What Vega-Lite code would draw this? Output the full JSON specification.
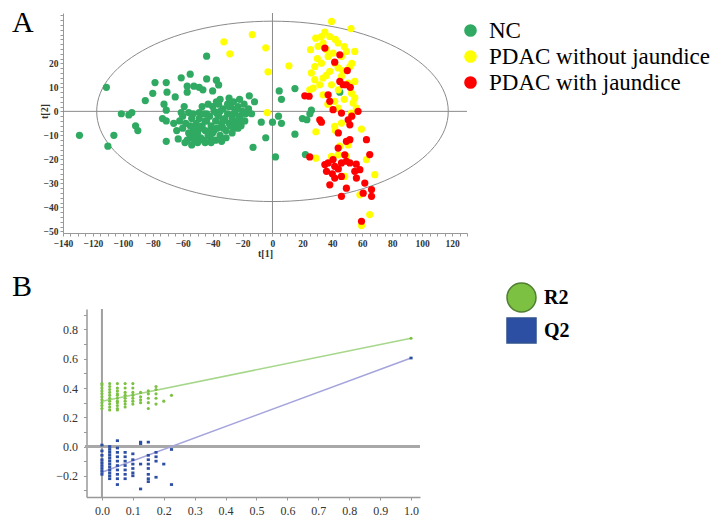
{
"$schema": "https://vega.github.io/schema/vega-lite/v6.json",
"padding": {"left": 12, "top": 8, "right": 2, "bottom": 2},
"background": "white",
"config": {"view": {"stroke": null}, "font": "Liberation Serif", "axis": {"grid": false, "labelFont": "Liberation Serif", "titleFont": "Liberation Serif", "labelOverlap": false, "labelFlush": false}},
"spacing": 13,
"resolve": {"scale": {"color": "independent", "shape": "independent"}, "legend": {"color": "independent", "shape": "independent"}},
"datasets": {
"scores": [
{"x":-129,"y":-10,"g":"NC"},{"x":-111,"y":10,"g":"NC"},{"x":-110,"y":-14.5,"g":"NC"},{"x":-106,"y":-10,"g":"NC"},{"x":-101,"y":-1,"g":"NC"},{"x":-96,"y":-1.5,"g":"NC"},{"x":-94,"y":-0.5,"g":"NC"},{"x":-91.5,"y":-6,"g":"NC"},{"x":-90,"y":-8,"g":"NC"},{"x":-85,"y":4.5,"g":"NC"},{"x":-80,"y":7.5,"g":"NC"},{"x":-78.5,"y":12,"g":"NC"},{"x":-71,"y":12,"g":"NC"},{"x":-70.5,"y":8,"g":"NC"},{"x":-65,"y":6,"g":"NC"},{"x":-72.5,"y":3,"g":"NC"},{"x":-71,"y":0.5,"g":"NC"},{"x":-73.5,"y":-3,"g":"NC"},{"x":-71,"y":-4,"g":"NC"},{"x":-71,"y":-12.5,"g":"NC"},{"x":-66,"y":-5,"g":"NC"},{"x":-63,"y":-11.5,"g":"NC"},{"x":-61,"y":14,"g":"NC"},{"x":-55,"y":15.5,"g":"NC"},{"x":-61,"y":-0.5,"g":"NC"},{"x":-57,"y":10.5,"g":"NC"},{"x":-57,"y":8,"g":"NC"},{"x":-52.5,"y":10.5,"g":"NC"},{"x":-49,"y":10,"g":"NC"},{"x":-46.5,"y":9,"g":"NC"},{"x":-44,"y":13.5,"g":"NC"},{"x":-44,"y":23,"g":"NC"},{"x":-40,"y":8.5,"g":"NC"},{"x":-37.5,"y":13,"g":"NC"},{"x":-36,"y":11,"g":"NC"},
{"x":-56,"y":-0.5,"g":"NC"},{"x":-49,"y":-0.5,"g":"NC"},{"x":-37.5,"y":4,"g":"NC"},{"x":-35,"y":5,"g":"NC"},{"x":-29,"y":5.5,"g":"NC"},{"x":-26,"y":4,"g":"NC"},{"x":-22,"y":5,"g":"NC"},{"x":-15.5,"y":6.5,"g":"NC"},{"x":-12,"y":4,"g":"NC"},{"x":-17,"y":-0.5,"g":"NC"},{"x":-18.5,"y":-4,"g":"NC"},{"x":-7.5,"y":-4.5,"g":"NC"},{"x":-4.5,"y":-11,"g":"NC"},{"x":-13,"y":-15,"g":"NC"},{"x":-34,"y":-12.5,"g":"NC"},{"x":-41.5,"y":-11,"g":"NC"},{"x":-45,"y":-13,"g":"NC"},{"x":-58.5,"y":-13,"g":"NC"},
{"x":-60,"y":-7,"g":"NC"},{"x":-58,"y":-5,"g":"NC"},{"x":-56,"y":-9,"g":"NC"},{"x":-55,"y":-11,"g":"NC"},{"x":-54,"y":-3,"g":"NC"},{"x":-53,"y":-7,"g":"NC"},{"x":-52,"y":-12,"g":"NC"},{"x":-51,"y":-5,"g":"NC"},{"x":-50,"y":-9,"g":"NC"},{"x":-49,"y":-3,"g":"NC"},{"x":-48,"y":-11,"g":"NC"},{"x":-47,"y":-6,"g":"NC"},{"x":-46,"y":-1,"g":"NC"},{"x":-45,"y":-8,"g":"NC"},{"x":-44,"y":-4,"g":"NC"},{"x":-43,"y":-10,"g":"NC"},{"x":-42,"y":-2,"g":"NC"},{"x":-41,"y":-6,"g":"NC"},{"x":-40,"y":-9,"g":"NC"},{"x":-39,"y":0,"g":"NC"},{"x":-38,"y":-4,"g":"NC"},{"x":-37,"y":-7,"g":"NC"},{"x":-36,"y":-2,"g":"NC"},{"x":-35,"y":-10,"g":"NC"},{"x":-34,"y":-5,"g":"NC"},{"x":-33,"y":1,"g":"NC"},{"x":-32,"y":-3,"g":"NC"},{"x":-31,"y":-8,"g":"NC"},{"x":-30,"y":-1,"g":"NC"},{"x":-29,"y":-5,"g":"NC"},{"x":-28,"y":2,"g":"NC"},{"x":-27,"y":-3,"g":"NC"},{"x":-26,"y":-7,"g":"NC"},{"x":-25,"y":0,"g":"NC"},{"x":-24,"y":-4,"g":"NC"},{"x":-23,"y":2,"g":"NC"},{"x":-22,"y":-2,"g":"NC"},{"x":-21,"y":-6,"g":"NC"},{"x":-20,"y":0,"g":"NC"},{"x":-19,"y":3,"g":"NC"},{"x":-18,"y":-1,"g":"NC"},{"x":-16,"y":1,"g":"NC"},{"x":-14,"y":-1,"g":"NC"},{"x":-57,"y":-12,"g":"NC"},{"x":-54,"y":-14,"g":"NC"},{"x":-52,"y":-9,"g":"NC"},{"x":-50,"y":-13,"g":"NC"},{"x":-48,"y":-7,"g":"NC"},{"x":-46,"y":-12,"g":"NC"},{"x":-44,"y":-1,"g":"NC"},{"x":-42,"y":-8,"g":"NC"},{"x":-40,"y":2,"g":"NC"},{"x":-38,"y":-12,"g":"NC"},{"x":-36,"y":3,"g":"NC"},{"x":-33,"y":-7,"g":"NC"},{"x":-31,"y":-11,"g":"NC"},{"x":-29,"y":2,"g":"NC"},{"x":-27,"y":-9,"g":"NC"},{"x":-25,"y":-5,"g":"NC"},{"x":-24,"y":1,"g":"NC"},{"x":-62,"y":-4,"g":"NC"},{"x":-64,"y":-8,"g":"NC"},{"x":-60,"y":-2,"g":"NC"},{"x":-59,"y":2,"g":"NC"},{"x":-47,"y":2,"g":"NC"},{"x":-43,"y":3,"g":"NC"},{"x":-35,"y":0,"g":"NC"},{"x":-30,"y":3,"g":"NC"},{"x":-20,"y":-4,"g":"NC"},{"x":-55,"y":-6,"g":"NC"},{"x":-53,"y":-1,"g":"NC"},{"x":-51,"y":-10,"g":"NC"},{"x":-49,"y":-7,"g":"NC"},{"x":-45,"y":-4,"g":"NC"},{"x":-41,"y":-13,"g":"NC"},{"x":-39,"y":-8,"g":"NC"},{"x":-37,"y":-1,"g":"NC"},{"x":-33,"y":-4,"g":"NC"},{"x":-28,"y":-6,"g":"NC"},{"x":-26,"y":-1,"g":"NC"},{"x":-23,"y":-7,"g":"NC"},
{"x":4.5,"y":8.5,"g":"NC"},{"x":6,"y":5,"g":"NC"},{"x":15,"y":9.5,"g":"NC"},{"x":4,"y":-2,"g":"NC"},{"x":0,"y":-4.5,"g":"NC"},{"x":6,"y":-5,"g":"NC"},{"x":15,"y":-9.5,"g":"NC"},{"x":2,"y":-19,"g":"NC"},{"x":22,"y":-18,"g":"NC"},{"x":20,"y":-3,"g":"NC"},{"x":23,"y":-3.5,"g":"NC"},{"x":26,"y":0.5,"g":"NC"},{"x":25,"y":-1,"g":"NC"},{"x":45,"y":8,"g":"NC"},
{"x":-32.5,"y":29,"g":"PDAC without jaundice"},{"x":-28.5,"y":24,"g":"PDAC without jaundice"},{"x":-13.5,"y":32,"g":"PDAC without jaundice"},{"x":-4.5,"y":26.5,"g":"PDAC without jaundice"},{"x":-3,"y":16.5,"g":"PDAC without jaundice"},{"x":11,"y":19,"g":"PDAC without jaundice"},{"x":-3.5,"y":-0.5,"g":"PDAC without jaundice"},{"x":29,"y":-8.5,"g":"PDAC without jaundice"},{"x":29,"y":-19.5,"g":"PDAC without jaundice"},{"x":39.5,"y":37.5,"g":"PDAC without jaundice"},{"x":52.5,"y":34.5,"g":"PDAC without jaundice"},
{"x":28.9,"y":30.5,"g":"PDAC without jaundice"},{"x":32.7,"y":31.2,"g":"PDAC without jaundice"},{"x":38.3,"y":31.2,"g":"PDAC without jaundice"},{"x":33.8,"y":28.5,"g":"PDAC without jaundice"},{"x":25.4,"y":25.7,"g":"PDAC without jaundice"},{"x":30.5,"y":27.1,"g":"PDAC without jaundice"},{"x":43.9,"y":28.5,"g":"PDAC without jaundice"},{"x":36.1,"y":25.7,"g":"PDAC without jaundice"},{"x":40.5,"y":24.3,"g":"PDAC without jaundice"},{"x":49.4,"y":25,"g":"PDAC without jaundice"},{"x":55,"y":25,"g":"PDAC without jaundice"},{"x":46.1,"y":22.9,"g":"PDAC without jaundice"},{"x":37.2,"y":22.9,"g":"PDAC without jaundice"},{"x":41.6,"y":20.1,"g":"PDAC without jaundice"},{"x":28.3,"y":18.7,"g":"PDAC without jaundice"},{"x":32.7,"y":20.1,"g":"PDAC without jaundice"},{"x":51.7,"y":18.7,"g":"PDAC without jaundice"},{"x":43.9,"y":18.1,"g":"PDAC without jaundice"},{"x":26,"y":16,"g":"PDAC without jaundice"},{"x":38.3,"y":16.7,"g":"PDAC without jaundice"},{"x":28.3,"y":13.2,"g":"PDAC without jaundice"},{"x":33.8,"y":13.9,"g":"PDAC without jaundice"},{"x":46.1,"y":14.6,"g":"PDAC without jaundice"},{"x":55,"y":12.5,"g":"PDAC without jaundice"},{"x":50.6,"y":11.8,"g":"PDAC without jaundice"},{"x":31.6,"y":11.1,"g":"PDAC without jaundice"},{"x":39.4,"y":11.1,"g":"PDAC without jaundice"},{"x":52.8,"y":7.6,"g":"PDAC without jaundice"},{"x":27.2,"y":9.7,"g":"PDAC without jaundice"},{"x":24.9,"y":9,"g":"PDAC without jaundice"},{"x":33.8,"y":6.9,"g":"PDAC without jaundice"},{"x":55,"y":5.6,"g":"PDAC without jaundice"},{"x":41.6,"y":4.2,"g":"PDAC without jaundice"},{"x":53.9,"y":3.5,"g":"PDAC without jaundice"},{"x":56.1,"y":1.4,"g":"PDAC without jaundice"},{"x":43.9,"y":1.4,"g":"PDAC without jaundice"},{"x":52.8,"y":-0.7,"g":"PDAC without jaundice"},
{"x":35,"y":33,"g":"PDAC without jaundice"},{"x":42,"y":30,"g":"PDAC without jaundice"},{"x":48,"y":27,"g":"PDAC without jaundice"},{"x":30,"y":22,"g":"PDAC without jaundice"},{"x":53,"y":20,"g":"PDAC without jaundice"},{"x":47,"y":17,"g":"PDAC without jaundice"},{"x":36,"y":15,"g":"PDAC without jaundice"},{"x":44,"y":9,"g":"PDAC without jaundice"},{"x":48,"y":5,"g":"PDAC without jaundice"},{"x":37,"y":3,"g":"PDAC without jaundice"},
{"x":59.5,"y":-7.4,"g":"PDAC without jaundice"},{"x":50.6,"y":-14,"g":"PDAC without jaundice"},{"x":68.4,"y":-26.4,"g":"PDAC without jaundice"},{"x":58.4,"y":-34.8,"g":"PDAC without jaundice"},{"x":65,"y":-43,"g":"PDAC without jaundice"},{"x":59.5,"y":-47.6,"g":"PDAC without jaundice"},{"x":41.6,"y":-6.3,"g":"PDAC without jaundice"},{"x":46.1,"y":-4.9,"g":"PDAC without jaundice"},{"x":43.9,"y":-18.1,"g":"PDAC without jaundice"},{"x":48.3,"y":-27.1,"g":"PDAC without jaundice"},{"x":49.4,"y":-18.8,"g":"PDAC without jaundice"},{"x":62.8,"y":-20.1,"g":"PDAC without jaundice"},{"x":39.4,"y":-18.8,"g":"PDAC without jaundice"},{"x":42,"y":-8,"g":"PDAC without jaundice"},{"x":45,"y":-14.5,"g":"PDAC without jaundice"},
{"x":35,"y":26.4,"g":"PDAC with jaundice"},{"x":45,"y":23.6,"g":"PDAC with jaundice"},{"x":41.6,"y":20.5,"g":"PDAC with jaundice"},{"x":45,"y":12.5,"g":"PDAC with jaundice"},{"x":49.4,"y":11.1,"g":"PDAC with jaundice"},{"x":47.2,"y":11.1,"g":"PDAC with jaundice"},{"x":21.6,"y":6.5,"g":"PDAC with jaundice"},{"x":24.5,"y":6.3,"g":"PDAC with jaundice"},{"x":37.2,"y":6.9,"g":"PDAC with jaundice"},{"x":38.3,"y":4.2,"g":"PDAC with jaundice"},{"x":40.5,"y":0.7,"g":"PDAC with jaundice"},{"x":31.6,"y":-3.5,"g":"PDAC with jaundice"},{"x":32.7,"y":-4.5,"g":"PDAC with jaundice"},{"x":50.6,"y":-3.5,"g":"PDAC with jaundice"},{"x":57.2,"y":0,"g":"PDAC with jaundice"},{"x":46.1,"y":-0.7,"g":"PDAC with jaundice"},{"x":51.7,"y":-5.6,"g":"PDAC with jaundice"},{"x":62.8,"y":-11.8,"g":"PDAC with jaundice"},{"x":49.4,"y":-12.5,"g":"PDAC with jaundice"},{"x":51.7,"y":-11.8,"g":"PDAC with jaundice"},{"x":43.9,"y":-15.3,"g":"PDAC with jaundice"},{"x":37.2,"y":-21.5,"g":"PDAC with jaundice"},{"x":46.1,"y":-21.5,"g":"PDAC with jaundice"},{"x":49.4,"y":-20.8,"g":"PDAC with jaundice"},{"x":41.6,"y":-22.9,"g":"PDAC with jaundice"},{"x":51.7,"y":-21.5,"g":"PDAC with jaundice"},{"x":65,"y":-18,"g":"PDAC with jaundice"},{"x":58.4,"y":-24.3,"g":"PDAC with jaundice"},{"x":56.1,"y":-27.8,"g":"PDAC with jaundice"},{"x":61.7,"y":-29.9,"g":"PDAC with jaundice"},{"x":66.2,"y":-32.6,"g":"PDAC with jaundice"},{"x":66.2,"y":-35.4,"g":"PDAC with jaundice"},{"x":46.1,"y":-35.4,"g":"PDAC with jaundice"},{"x":49.4,"y":-32,"g":"PDAC with jaundice"},{"x":38.3,"y":-30.6,"g":"PDAC with jaundice"},{"x":41.6,"y":-27.8,"g":"PDAC with jaundice"},{"x":46.1,"y":-27.1,"g":"PDAC with jaundice"},{"x":36.1,"y":-25,"g":"PDAC with jaundice"},{"x":59.5,"y":-45.8,"g":"PDAC with jaundice"},{"x":35,"y":-22.2,"g":"PDAC with jaundice"},{"x":48.3,"y":-18.1,"g":"PDAC with jaundice"},{"x":55,"y":-25,"g":"PDAC with jaundice"},{"x":60.6,"y":-34.1,"g":"PDAC with jaundice"},{"x":40.5,"y":-20.1,"g":"PDAC with jaundice"},{"x":24.9,"y":-19,"g":"PDAC with jaundice"},{"x":44,"y":-9,"g":"PDAC with jaundice"},{"x":53,"y":-2,"g":"PDAC with jaundice"},{"x":50,"y":17,"g":"PDAC with jaundice"},{"x":52,"y":10,"g":"PDAC with jaundice"},{"x":40,"y":-26,"g":"PDAC with jaundice"},{"x":44,"y":-24,"g":"PDAC with jaundice"},{"x":56,"y":-22,"g":"PDAC with jaundice"}
],
"perm": [
{"x":0,"y":0.26,"s":"R2"},{"x":0,"y":0.28,"s":"R2"},{"x":0,"y":0.30,"s":"R2"},{"x":0,"y":0.32,"s":"R2"},{"x":0,"y":0.34,"s":"R2"},{"x":0,"y":0.36,"s":"R2"},{"x":0,"y":0.38,"s":"R2"},{"x":0,"y":0.40,"s":"R2"},{"x":0,"y":0.42,"s":"R2"},{"x":0,"y":0.43,"s":"R2"},
{"x":0.025,"y":0.25,"s":"R2"},{"x":0.025,"y":0.27,"s":"R2"},{"x":0.025,"y":0.29,"s":"R2"},{"x":0.025,"y":0.31,"s":"R2"},{"x":0.025,"y":0.33,"s":"R2"},{"x":0.025,"y":0.35,"s":"R2"},{"x":0.025,"y":0.37,"s":"R2"},{"x":0.025,"y":0.39,"s":"R2"},{"x":0.025,"y":0.41,"s":"R2"},{"x":0.025,"y":0.43,"s":"R2"},
{"x":0.05,"y":0.25,"s":"R2"},{"x":0.05,"y":0.26,"s":"R2"},{"x":0.05,"y":0.28,"s":"R2"},{"x":0.05,"y":0.30,"s":"R2"},{"x":0.05,"y":0.31,"s":"R2"},{"x":0.05,"y":0.33,"s":"R2"},{"x":0.05,"y":0.35,"s":"R2"},{"x":0.05,"y":0.36,"s":"R2"},{"x":0.05,"y":0.38,"s":"R2"},{"x":0.05,"y":0.40,"s":"R2"},{"x":0.05,"y":0.43,"s":"R2"},
{"x":0.075,"y":0.27,"s":"R2"},{"x":0.075,"y":0.29,"s":"R2"},{"x":0.075,"y":0.31,"s":"R2"},{"x":0.075,"y":0.33,"s":"R2"},{"x":0.075,"y":0.35,"s":"R2"},{"x":0.075,"y":0.37,"s":"R2"},{"x":0.075,"y":0.40,"s":"R2"},{"x":0.075,"y":0.43,"s":"R2"},
{"x":0.1,"y":0.29,"s":"R2"},{"x":0.1,"y":0.31,"s":"R2"},{"x":0.1,"y":0.33,"s":"R2"},{"x":0.1,"y":0.35,"s":"R2"},{"x":0.1,"y":0.37,"s":"R2"},{"x":0.1,"y":0.40,"s":"R2"},{"x":0.1,"y":0.43,"s":"R2"},
{"x":0.125,"y":0.30,"s":"R2"},{"x":0.125,"y":0.32,"s":"R2"},{"x":0.125,"y":0.34,"s":"R2"},{"x":0.125,"y":0.37,"s":"R2"},
{"x":0.15,"y":0.26,"s":"R2"},{"x":0.15,"y":0.30,"s":"R2"},{"x":0.15,"y":0.33,"s":"R2"},{"x":0.15,"y":0.36,"s":"R2"},{"x":0.15,"y":0.38,"s":"R2"},
{"x":0.175,"y":0.29,"s":"R2"},{"x":0.175,"y":0.33,"s":"R2"},{"x":0.175,"y":0.36,"s":"R2"},{"x":0.175,"y":0.39,"s":"R2"},{"x":0.175,"y":0.41,"s":"R2"},
{"x":0.2,"y":0.31,"s":"R2"},{"x":0.225,"y":0.35,"s":"R2"},{"x":1,"y":0.74,"s":"R2"},
{"x":0,"y":0.01,"s":"Q2"},{"x":0,"y":-0.03,"s":"Q2"},{"x":0,"y":-0.06,"s":"Q2"},{"x":0,"y":-0.09,"s":"Q2"},{"x":0,"y":-0.11,"s":"Q2"},{"x":0,"y":-0.13,"s":"Q2"},{"x":0,"y":-0.15,"s":"Q2"},{"x":0,"y":-0.17,"s":"Q2"},{"x":0,"y":-0.19,"s":"Q2"},
{"x":0.025,"y":0.0,"s":"Q2"},{"x":0.025,"y":-0.02,"s":"Q2"},{"x":0.025,"y":-0.04,"s":"Q2"},{"x":0.025,"y":-0.06,"s":"Q2"},{"x":0.025,"y":-0.08,"s":"Q2"},{"x":0.025,"y":-0.10,"s":"Q2"},{"x":0.025,"y":-0.12,"s":"Q2"},{"x":0.025,"y":-0.14,"s":"Q2"},{"x":0.025,"y":-0.16,"s":"Q2"},{"x":0.025,"y":-0.18,"s":"Q2"},{"x":0.025,"y":-0.20,"s":"Q2"},{"x":0.025,"y":-0.22,"s":"Q2"},
{"x":0.05,"y":0.04,"s":"Q2"},{"x":0.05,"y":-0.01,"s":"Q2"},{"x":0.05,"y":-0.04,"s":"Q2"},{"x":0.05,"y":-0.07,"s":"Q2"},{"x":0.05,"y":-0.10,"s":"Q2"},{"x":0.05,"y":-0.13,"s":"Q2"},{"x":0.05,"y":-0.16,"s":"Q2"},{"x":0.05,"y":-0.19,"s":"Q2"},{"x":0.05,"y":-0.22,"s":"Q2"},{"x":0.05,"y":-0.26,"s":"Q2"},
{"x":0.075,"y":-0.04,"s":"Q2"},{"x":0.075,"y":-0.07,"s":"Q2"},{"x":0.075,"y":-0.10,"s":"Q2"},{"x":0.075,"y":-0.13,"s":"Q2"},{"x":0.075,"y":-0.16,"s":"Q2"},{"x":0.075,"y":-0.19,"s":"Q2"},{"x":0.075,"y":-0.22,"s":"Q2"},
{"x":0.1,"y":-0.05,"s":"Q2"},{"x":0.1,"y":-0.09,"s":"Q2"},{"x":0.1,"y":-0.12,"s":"Q2"},{"x":0.1,"y":-0.15,"s":"Q2"},{"x":0.1,"y":-0.18,"s":"Q2"},{"x":0.1,"y":-0.20,"s":"Q2"},
{"x":0.125,"y":0.03,"s":"Q2"},{"x":0.125,"y":0.02,"s":"Q2"},{"x":0.125,"y":-0.12,"s":"Q2"},{"x":0.125,"y":-0.29,"s":"Q2"},
{"x":0.15,"y":0.03,"s":"Q2"},{"x":0.15,"y":-0.06,"s":"Q2"},{"x":0.15,"y":-0.09,"s":"Q2"},{"x":0.15,"y":-0.12,"s":"Q2"},{"x":0.15,"y":-0.15,"s":"Q2"},{"x":0.15,"y":-0.19,"s":"Q2"},{"x":0.15,"y":-0.22,"s":"Q2"},{"x":0.15,"y":-0.24,"s":"Q2"},
{"x":0.175,"y":-0.04,"s":"Q2"},{"x":0.175,"y":-0.07,"s":"Q2"},{"x":0.175,"y":-0.10,"s":"Q2"},{"x":0.175,"y":-0.21,"s":"Q2"},
{"x":0.2,"y":-0.12,"s":"Q2"},{"x":0.225,"y":-0.02,"s":"Q2"},{"x":0.225,"y":-0.26,"s":"Q2"},{"x":1,"y":0.605,"s":"Q2"}
]
},
"vconcat": [
{
"title": {"text": "A", "anchor": "start", "frame": "group", "dx": -51, "dy": 28, "offset": 0, "fontSize": 30, "font": "Liberation Serif", "fontWeight": "normal", "color": "#000"},
"width": 404, "height": 220,
"layer": [
{"data": {"values": [{"x": 0}]}, "mark": {"type": "rule", "color": "#8a8a8a", "strokeWidth": 1},
 "encoding": {"x": {"field": "x", "type": "quantitative", "scale": {"domain": [-140, 130], "nice": false, "zero": false},
  "axis": {"title": "t[1]", "values": [-140,-135,-130,-125,-120,-115,-110,-105,-100,-95,-90,-85,-80,-75,-70,-65,-60,-55,-50,-45,-40,-35,-30,-25,-20,-15,-10,-5,0,5,10,15,20,25,30,35,40,45,50,55,60,65,70,75,80,85,90,95,100,105,110,115,120,125,130], "labelOverlap": false, "labelFlush": false,
   "labelExpr": "datum.value % 20 === 0 ? datum.label : ''", "labelFontWeight": "bold", "labelFontSize": 9.5, "labelColor": "#333", "labelPadding": 2, "tickSize": 3, "tickColor": "#999", "domainColor": "#999", "titleFontWeight": "bold", "titleFontSize": 10, "titleColor": "#333", "titlePadding": 1}}}},
{"data": {"values": [{"y": 0}]}, "mark": {"type": "rule", "color": "#8a8a8a", "strokeWidth": 1},
 "encoding": {"y": {"field": "y", "type": "quantitative", "scale": {"domain": [-50.7, 41], "nice": false, "zero": false},
  "axis": {"title": "t[2]", "values": [-50,-48,-46,-44,-42,-40,-38,-36,-34,-32,-30,-28,-26,-24,-22,-20,-18,-16,-14,-12,-10,-8,-6,-4,-2,0,2,4,6,8,10,12,14,16,18,20,22,24,26,28,30,32,34,36,38,40], "labelOverlap": false, "labelFlush": false,
   "labelExpr": "(datum.value % 10 === 0 && datum.value <= 20) ? datum.label : ''", "labelFontWeight": "bold", "labelFontSize": 9.5, "labelColor": "#333", "labelPadding": 2, "tickSize": 3, "tickColor": "#999", "domainColor": "#999", "titleFontWeight": "bold", "titleFontSize": 10, "titleColor": "#333", "titleX": -14, "titleY": 98}}}},
{"data": {"values": [{"x": 0, "y": 0}]}, "mark": {"type": "point", "shape": "M-1,0A1,0.513,0,1,1,1,0A1,0.513,0,1,1,-1,0Z", "size": 123600, "filled": false, "stroke": "#8a8a8a", "strokeWidth": 1, "opacity": 1},
 "encoding": {
  "x": {"field": "x", "type": "quantitative", "scale": {"domain": [-140, 130], "nice": false, "zero": false},
  "axis": {"title": "t[1]", "values": [-140,-135,-130,-125,-120,-115,-110,-105,-100,-95,-90,-85,-80,-75,-70,-65,-60,-55,-50,-45,-40,-35,-30,-25,-20,-15,-10,-5,0,5,10,15,20,25,30,35,40,45,50,55,60,65,70,75,80,85,90,95,100,105,110,115,120,125,130], "labelOverlap": false, "labelFlush": false,
   "labelExpr": "datum.value % 20 === 0 ? datum.label : ''", "labelFontWeight": "bold", "labelFontSize": 9.5, "labelColor": "#333", "labelPadding": 2, "tickSize": 3, "tickColor": "#999", "domainColor": "#999", "titleFontWeight": "bold", "titleFontSize": 10, "titleColor": "#333", "titlePadding": 1}},
  "y": {"field": "y", "type": "quantitative", "scale": {"domain": [-50.7, 41], "nice": false, "zero": false},
  "axis": {"title": "t[2]", "values": [-50,-48,-46,-44,-42,-40,-38,-36,-34,-32,-30,-28,-26,-24,-22,-20,-18,-16,-14,-12,-10,-8,-6,-4,-2,0,2,4,6,8,10,12,14,16,18,20,22,24,26,28,30,32,34,36,38,40], "labelOverlap": false, "labelFlush": false,
   "labelExpr": "(datum.value % 10 === 0 && datum.value <= 20) ? datum.label : ''", "labelFontWeight": "bold", "labelFontSize": 9.5, "labelColor": "#333", "labelPadding": 2, "tickSize": 3, "tickColor": "#999", "domainColor": "#999", "titleFontWeight": "bold", "titleFontSize": 10, "titleColor": "#333", "titleX": -14, "titleY": 98}}}},
{"data": {"name": "scores"}, "mark": {"type": "point", "filled": true, "opacity": 1, "size": 52, "strokeWidth": 0},
 "encoding": {
  "x": {"field": "x", "type": "quantitative", "scale": {"domain": [-140, 130], "nice": false, "zero": false},
  "axis": {"title": "t[1]", "values": [-140,-135,-130,-125,-120,-115,-110,-105,-100,-95,-90,-85,-80,-75,-70,-65,-60,-55,-50,-45,-40,-35,-30,-25,-20,-15,-10,-5,0,5,10,15,20,25,30,35,40,45,50,55,60,65,70,75,80,85,90,95,100,105,110,115,120,125,130], "labelOverlap": false, "labelFlush": false,
   "labelExpr": "datum.value % 20 === 0 ? datum.label : ''", "labelFontWeight": "bold", "labelFontSize": 9.5, "labelColor": "#333", "labelPadding": 2, "tickSize": 3, "tickColor": "#999", "domainColor": "#999", "titleFontWeight": "bold", "titleFontSize": 10, "titleColor": "#333", "titlePadding": 1}},
  "y": {"field": "y", "type": "quantitative", "scale": {"domain": [-50.7, 41], "nice": false, "zero": false},
  "axis": {"title": "t[2]", "values": [-50,-48,-46,-44,-42,-40,-38,-36,-34,-32,-30,-28,-26,-24,-22,-20,-18,-16,-14,-12,-10,-8,-6,-4,-2,0,2,4,6,8,10,12,14,16,18,20,22,24,26,28,30,32,34,36,38,40], "labelOverlap": false, "labelFlush": false,
   "labelExpr": "(datum.value % 10 === 0 && datum.value <= 20) ? datum.label : ''", "labelFontWeight": "bold", "labelFontSize": 9.5, "labelColor": "#333", "labelPadding": 2, "tickSize": 3, "tickColor": "#999", "domainColor": "#999", "titleFontWeight": "bold", "titleFontSize": 10, "titleColor": "#333", "titleX": -14, "titleY": 98}},
  "color": {"field": "g", "type": "nominal", "scale": {"domain": ["NC", "PDAC without jaundice", "PDAC with jaundice"], "range": ["#30aa62", "#ffff00", "#ff0000"]},
   "legend": {"title": null, "orient": "none", "legendX": 396, "legendY": 6, "padding": 0, "symbolType": "circle", "symbolSize": 160, "symbolOpacity": 1, "symbolStrokeWidth": 0, "labelFont": "Liberation Serif", "labelFontSize": 23, "labelColor": "#000", "labelOffset": 7, "rowPadding": 2, "labelLimit": 400}}}}
]
},
{
"title": {"text": "B", "anchor": "start", "frame": "group", "dx": -51, "dy": 24, "offset": 4, "fontSize": 30, "font": "Liberation Serif", "fontWeight": "normal", "color": "#000"},
"width": 357, "height": 188,
"layer": [
{"data": {"values": [{"x": 0}]}, "mark": {"type": "rule", "color": "#a0a0a0", "strokeWidth": 2},
 "encoding": {"x": {"field": "x", "type": "quantitative", "scale": {"domain": [-0.126, 1.029], "nice": false, "zero": false},
  "axis": {"title": null, "values": [0,0.1,0.2,0.3,0.4,0.5,0.6,0.7,0.8,0.9,1.0], "format": ".1f", "labelOverlap": false, "labelFlush": false, "labelFontSize": 12, "labelColor": "#333", "labelPadding": 5, "tickSize": 3, "tickColor": "#999", "domainColor": "#999", "domainWidth": 1.5, "domainDash": [0, 23.5, 400]}}}},
{"data": {"values": [{"x": -0.055, "x2": 1.029, "y": 0}]}, "mark": {"type": "rule", "color": "#a8a8a8", "strokeWidth": 3},
 "encoding": {
  "x": {"field": "x", "type": "quantitative", "scale": {"domain": [-0.126, 1.029], "nice": false, "zero": false},
  "axis": {"title": null, "values": [0,0.1,0.2,0.3,0.4,0.5,0.6,0.7,0.8,0.9,1.0], "format": ".1f", "labelOverlap": false, "labelFlush": false, "labelFontSize": 12, "labelColor": "#333", "labelPadding": 5, "tickSize": 3, "tickColor": "#999", "domainColor": "#999", "domainWidth": 1.5, "domainDash": [0, 23.5, 400]}},
  "x2": {"field": "x2"},
  "y": {"field": "y", "type": "quantitative", "scale": {"domain": [-0.345, 0.94], "nice": false, "zero": false},
  "axis": {"title": null, "offset": -23.5, "values": [-0.3,-0.2,-0.1,0,0.1,0.2,0.3,0.4,0.5,0.6,0.7,0.8,0.9], "labelOverlap": false, "labelFlush": false, "labelExpr": "(round(datum.value*10) % 2 === 0 && datum.value > -0.25 && datum.value < 0.85) ? format(datum.value, '.1f') : ''", "labelFontSize": 12, "labelColor": "#333", "labelPadding": 6, "tickSize": 3, "tickColor": "#999", "domainColor": "#999", "domainWidth": 1.5}}}},
{"data": {"values": [{"x": 0, "y": 0.31}, {"x": 1, "y": 0.74}]}, "mark": {"type": "line", "color": "#a6d78b", "strokeWidth": 1.6},
 "encoding": {
  "x": {"field": "x", "type": "quantitative", "scale": {"domain": [-0.126, 1.029], "nice": false, "zero": false},
  "axis": {"title": null, "values": [0,0.1,0.2,0.3,0.4,0.5,0.6,0.7,0.8,0.9,1.0], "format": ".1f", "labelOverlap": false, "labelFlush": false, "labelFontSize": 12, "labelColor": "#333", "labelPadding": 5, "tickSize": 3, "tickColor": "#999", "domainColor": "#999", "domainWidth": 1.5, "domainDash": [0, 23.5, 400]}},
  "y": {"field": "y", "type": "quantitative", "scale": {"domain": [-0.345, 0.94], "nice": false, "zero": false},
  "axis": {"title": null, "offset": -23.5, "values": [-0.3,-0.2,-0.1,0,0.1,0.2,0.3,0.4,0.5,0.6,0.7,0.8,0.9], "labelOverlap": false, "labelFlush": false, "labelExpr": "(round(datum.value*10) % 2 === 0 && datum.value > -0.25 && datum.value < 0.85) ? format(datum.value, '.1f') : ''", "labelFontSize": 12, "labelColor": "#333", "labelPadding": 6, "tickSize": 3, "tickColor": "#999", "domainColor": "#999", "domainWidth": 1.5}}}},
{"data": {"values": [{"x": 0, "y": -0.175}, {"x": 1, "y": 0.605}]}, "mark": {"type": "line", "color": "#a4a4dc", "strokeWidth": 1.6},
 "encoding": {
  "x": {"field": "x", "type": "quantitative", "scale": {"domain": [-0.126, 1.029], "nice": false, "zero": false},
  "axis": {"title": null, "values": [0,0.1,0.2,0.3,0.4,0.5,0.6,0.7,0.8,0.9,1.0], "format": ".1f", "labelOverlap": false, "labelFlush": false, "labelFontSize": 12, "labelColor": "#333", "labelPadding": 5, "tickSize": 3, "tickColor": "#999", "domainColor": "#999", "domainWidth": 1.5, "domainDash": [0, 23.5, 400]}},
  "y": {"field": "y", "type": "quantitative", "scale": {"domain": [-0.345, 0.94], "nice": false, "zero": false},
  "axis": {"title": null, "offset": -23.5, "values": [-0.3,-0.2,-0.1,0,0.1,0.2,0.3,0.4,0.5,0.6,0.7,0.8,0.9], "labelOverlap": false, "labelFlush": false, "labelExpr": "(round(datum.value*10) % 2 === 0 && datum.value > -0.25 && datum.value < 0.85) ? format(datum.value, '.1f') : ''", "labelFontSize": 12, "labelColor": "#333", "labelPadding": 6, "tickSize": 3, "tickColor": "#999", "domainColor": "#999", "domainWidth": 1.5}}}},
{"data": {"name": "perm"}, "mark": {"type": "point", "filled": true, "opacity": 1, "size": 10},
 "encoding": {
  "x": {"field": "x", "type": "quantitative", "scale": {"domain": [-0.126, 1.029], "nice": false, "zero": false},
  "axis": {"title": null, "values": [0,0.1,0.2,0.3,0.4,0.5,0.6,0.7,0.8,0.9,1.0], "format": ".1f", "labelOverlap": false, "labelFlush": false, "labelFontSize": 12, "labelColor": "#333", "labelPadding": 5, "tickSize": 3, "tickColor": "#999", "domainColor": "#999", "domainWidth": 1.5, "domainDash": [0, 23.5, 400]}},
  "y": {"field": "y", "type": "quantitative", "scale": {"domain": [-0.345, 0.94], "nice": false, "zero": false},
  "axis": {"title": null, "offset": -23.5, "values": [-0.3,-0.2,-0.1,0,0.1,0.2,0.3,0.4,0.5,0.6,0.7,0.8,0.9], "labelOverlap": false, "labelFlush": false, "labelExpr": "(round(datum.value*10) % 2 === 0 && datum.value > -0.25 && datum.value < 0.85) ? format(datum.value, '.1f') : ''", "labelFontSize": 12, "labelColor": "#333", "labelPadding": 6, "tickSize": 3, "tickColor": "#999", "domainColor": "#999", "domainWidth": 1.5}},
  "color": {"field": "s", "type": "nominal", "scale": {"domain": ["R2", "Q2"], "range": ["#7cc142", "#2c4ea3"]},
   "legend": {"title": null, "orient": "none", "legendX": 443, "legendY": -27, "padding": 0, "symbolSize": 841, "symbolOpacity": 1, "labelFont": "Liberation Serif", "labelFontSize": 20, "labelFontWeight": "bold", "labelColor": "#000", "labelOffset": 7, "rowPadding": 0,
    "encode": {"symbols": {"update": {"fill": {"signal": "datum.value === 'R2' ? '#70AD47' : '#4472C4'"}, "stroke": {"signal": "datum.value === 'R2' ? '#507E32' : '#2F528F'"}, "strokeWidth": {"value": 1.5}, "opacity": {"value": 1}}}}}},
  "shape": {"field": "s", "type": "nominal", "scale": {"domain": ["R2", "Q2"], "range": ["circle", "M-1,-0.86L1,-0.86L1,0.86L-1,0.86Z"]}}}}
]
}
]
}
